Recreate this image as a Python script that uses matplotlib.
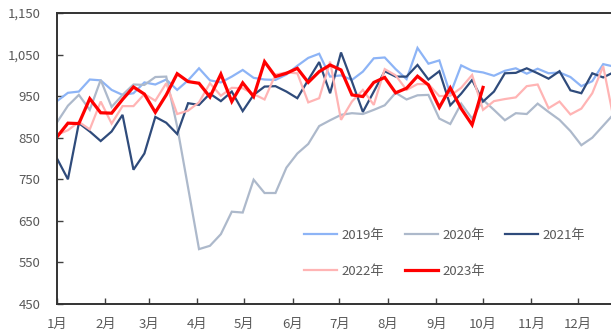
import datetime as dt
import matplotlib
matplotlib.use("Agg")
import matplotlib.pyplot as plt
from matplotlib.ticker import FuncFormatter

plt.rcParams["font.family"] = ["Noto Sans CJK SC", "DejaVu Sans"]

# Weekly values, one list per year (week 1 .. week 52)
y2019 = [938, 958, 961, 990, 988, 965, 953, 957, 983, 978, 990, 965, 988,
         1017, 988, 983, 997, 1013, 994, 990, 989, 1002, 1023, 1042, 1052, 997,
         1000, 989, 1009, 1041, 1043, 1015, 991, 1066, 1028, 1036, 955, 1024, 1011,
         1007, 999, 1011, 1017, 1004, 1016, 1005, 1007, 996, 974, 986, 1027, 1021]
y2020 = [887, 927, 953, 917, 989, 924, 953, 978, 977, 996, 997, 877, 730,
         582, 590, 618, 672, 670, 749, 717, 717, 778, 812, 835, 878, 892,
         905, 909, 907, 917, 928, 958, 942, 952, 953, 896, 883, 932, 896,
         941, 917, 892, 909, 907, 932, 912, 893, 866, 832, 850, 879, 908]
y2021 = [800, 750, 885, 865, 842, 865, 905, 773, 812, 900, 886, 859, 933,
         929, 956, 938, 961, 914, 953, 973, 974, 961, 945, 989, 1032, 957,
         1055, 985, 912, 961, 1010, 997, 997, 1025, 990, 1010, 928, 956, 989,
         937, 961, 1005, 1006, 1017, 1005, 992, 1010, 964, 957, 1005, 995, 1008]
y2022 = [857, 868, 888, 870, 937, 884, 926, 926, 955, 939, 981, 907, 915,
         935, 981, 951, 970, 969, 955, 942, 1002, 1007, 1005, 935, 945, 1033,
         893, 937, 965, 929, 1015, 1000, 965, 979, 979, 950, 951, 970, 1001,
         917, 938, 943, 947, 974, 978, 921, 937, 906, 920, 957, 1022, 890]
y2023 = [852, 885, 884, 944, 910, 909, 942, 972, 955, 911, 953, 1004, 985,
         981, 948, 1003, 937, 982, 949, 1033, 997, 1005, 1017, 983, 1009, 1025,
         1013, 953, 949, 983, 995, 958, 969, 998, 977, 923, 970, 920, 881,
         971]

years = ["2019年", "2020年", "2021年", "2022年", "2023年"]
month_labels = [f"{m}月" for m in range(1, 13)]
y_ticks = [450, 550, 650, 750, 850, 950, 1050, 1150]

series = [y2019, y2020, y2021, y2022, y2023]
colors = ["#8DB4F6", "#ADB9CB", "#2F4B7B", "#FFB4B4", "#FF0000"]
widths = [1.6, 1.6, 1.6, 1.6, 2.3]

# day-of-year offsets for each week and for the first day of each month
def week_days(n):
    return [7 * i for i in range(n)]

month_days = [(dt.date(2023, m, 1) - dt.date(2023, 1, 1)).days for m in range(1, 13)]

fig = plt.figure(figsize=(6.11, 3.35), dpi=100)
ax = fig.add_axes([57 / 611, 31 / 335, 1 - 57 / 611, (304 - 13) / 335])

lines = {}
for name, vals, c, lw in zip(years, series, colors, widths):
    lines[name], = ax.plot(week_days(len(vals)), vals, color=c, lw=lw,
                           solid_joinstyle="miter", label=name)

ax.set_xlim(0, 355)
ax.set_ylim(450, 1150)

ax.set_xticks(month_days)
ax.set_xticklabels(month_labels)
ax.set_yticks(y_ticks)
ax.yaxis.set_major_formatter(FuncFormatter(lambda v, p: f"{int(v):,}"))

label_color = "#595959"
ax.tick_params(axis="x", direction="in", length=4.5, width=1.0, color="#404040",
               labelsize=9.5, labelcolor=label_color, pad=10)
ax.tick_params(axis="y", direction="in", length=4.5, width=1.0, color="#404040",
               labelsize=9.5, labelcolor=label_color, pad=12)

for side in ("left", "bottom", "top"):
    ax.spines[side].set_color("#333333")
    ax.spines[side].set_linewidth(1.4)
ax.spines["right"].set_visible(False)

# legend: 3 per row, filled column-wise
order = ["2019年", "2022年", "2020年", "2023年", "2021年"]
leg = ax.legend([lines[k] for k in order], order, ncol=3, frameon=False,
                loc="upper left", bbox_to_anchor=(304 / 611, 1 - 229 / 335),
                bbox_transform=fig.transFigure, borderpad=0, borderaxespad=0,
                handlelength=2.5, handletextpad=0.35, columnspacing=1.55,
                labelspacing=1.75, fontsize=9.5)
for t in leg.get_texts():
    t.set_color(label_color)

fig.savefig("out.png", dpi=100)
